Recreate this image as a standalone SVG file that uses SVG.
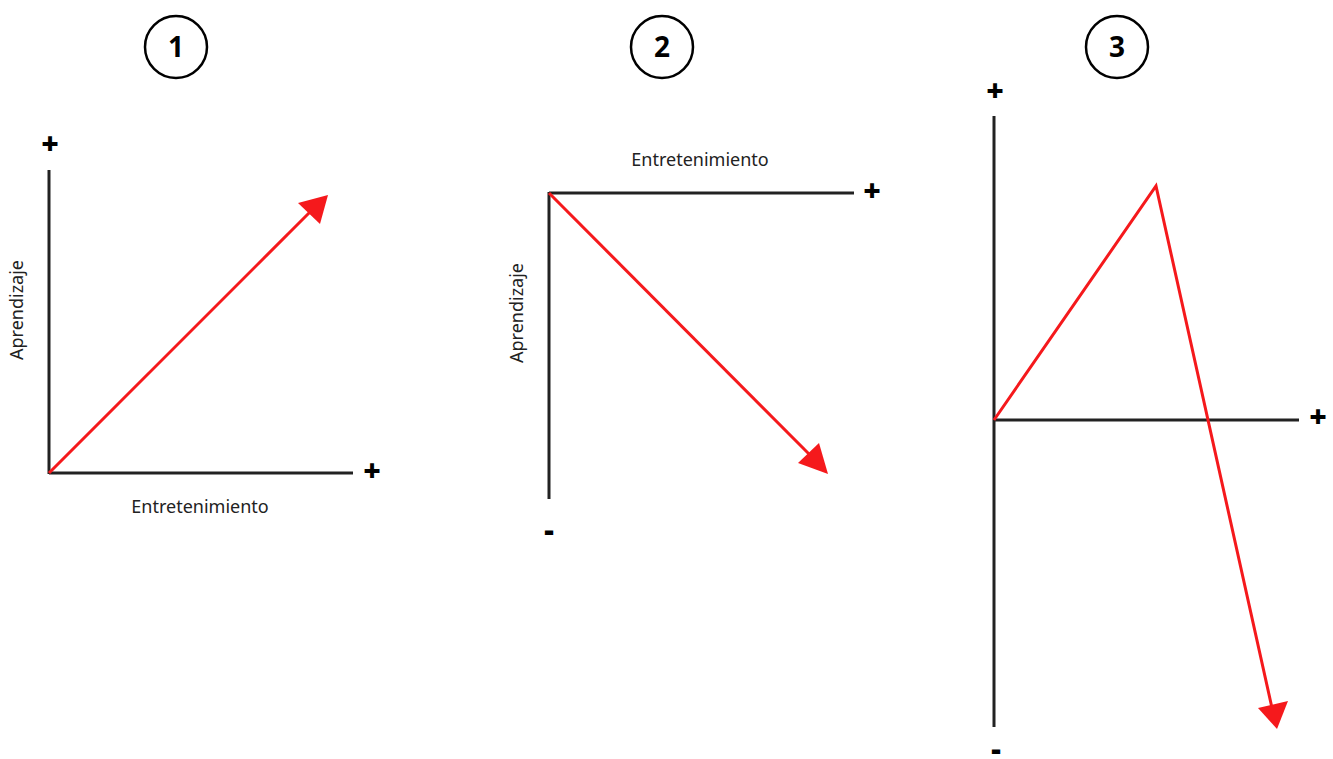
<svg xmlns="http://www.w3.org/2000/svg" width="1333" height="759" viewBox="0 0 1333 759">
  <defs>
    <style>
      .axis { stroke: #222; stroke-width: 3; fill: none; }
      .trend { stroke: #f5191c; stroke-width: 3; fill: none; }
      .head { fill: #f5191c; }
      .badge { fill: #fff; stroke: #000; stroke-width: 2.5; }
      .num { font-family: "Open Sans", "Noto Sans", sans-serif; font-weight: 700; font-size: 28px; text-anchor: middle; fill: #000; }
      .sign { font-family: "Open Sans", "Noto Sans", sans-serif; font-weight: 800; font-size: 30px; text-anchor: middle; fill: #000; }
      .lbl { font-family: "Noto Sans", "Open Sans", sans-serif; font-size: 18px; text-anchor: middle; fill: #222; }
    </style>
  </defs>

  <!-- numbered badges -->
  <g id="badge-1"><circle class="badge" cx="176" cy="47" r="31"/><text class="num" x="176" y="57">1</text></g>
  <g id="badge-2"><circle class="badge" cx="662" cy="47" r="31"/><text class="num" x="662" y="57">2</text></g>
  <g id="badge-3"><circle class="badge" cx="1117" cy="47" r="31"/><text class="num" x="1117" y="57">3</text></g>

  <!-- chart 1 -->
  <g id="chart-1">
    <path class="axis" d="M49 170 V474 M49 473 H353"/>
    <text class="sign" x="50" y="154">+</text>
    <text class="sign" x="372" y="481">+</text>
    <text class="lbl" x="200" y="513">Entretenimiento</text>
    <text class="lbl" transform="translate(23 310) rotate(-90)">Aprendizaje</text>
  </g>

  <!-- chart 2 -->
  <g id="chart-2">
    <path class="axis" d="M549 193 H854 M549 192 V499"/>
    <text class="sign" x="872" y="201">+</text>
    <text class="sign" x="549" y="541">-</text>
    <text class="lbl" x="700" y="166">Entretenimiento</text>
    <text class="lbl" transform="translate(523 313) rotate(-90)">Aprendizaje</text>
  </g>

  <!-- chart 3 -->
  <g id="chart-3">
    <path class="axis" d="M994 116 V727 M994 420 H1299"/>
    <text class="sign" x="995" y="101">+</text>
    <text class="sign" x="1318" y="427">+</text>
    <text class="sign" x="996" y="760">-</text>
  </g>

  <!-- connectors -->
  <g id="connectors">
    <path class="trend" d="M49 473 L312 210"/>
    <polygon class="head" points="328,195 298,203 320,224"/>
    <path class="trend" d="M549 193 L812 457"/>
    <polygon class="head" points="828,474 798,463 819,443"/>
    <path class="trend" stroke-linejoin="miter" d="M994 420 L1156 186 L1272 708"/>
    <polygon class="head" points="1277,729 1258,708 1288,701"/>
  </g>
</svg>
